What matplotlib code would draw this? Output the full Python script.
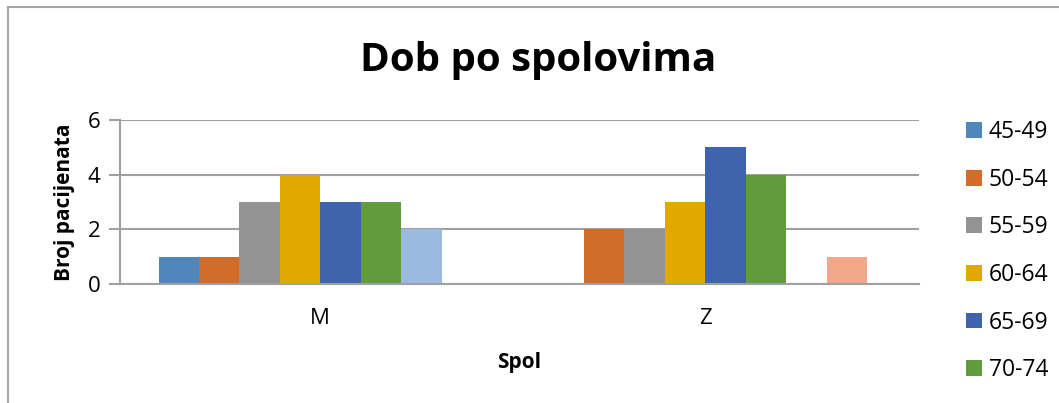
import matplotlib
matplotlib.use("Agg")
import matplotlib.pyplot as plt
from matplotlib.patches import Patch
from matplotlib.lines import Line2D
import numpy as np

categories = ["M", "Z"]
age_groups = ["45-49", "50-54", "55-59", "60-64", "65-69", "70-74", "75-79", "80-84"]
values_m = [1, 1, 3, 4, 3, 3, 2, 0]
values_z = [0, 2, 2, 3, 5, 4, 0, 1]
colors = ["#4F87BD", "#D26C2A", "#939393", "#E1A900", "#3D64AC", "#629A3E", "#9ABAE0", "#F0A78A"]
yticks = [0, 2, 4, 6]

FONT = "Open Sans"
plt.rcParams["font.family"] = [FONT, "DejaVu Sans"]

W, H = 1059, 403
fig = plt.figure(figsize=(W / 100, H / 100), dpi=100)

# axes placement in pixels
ax_l, ax_r, ax_t, ax_b = 120, 919, 120, 284
ax = fig.add_axes([ax_l / W, 1 - ax_b / H, (ax_r - ax_l) / W, (ax_b - ax_t) / H])

n = len(age_groups)
bw = 0.105
x = np.arange(len(categories))
for i, g in enumerate(age_groups):
    vals = [values_m[i], values_z[i]]
    ax.bar(x + (i - (n - 1) / 2) * bw, vals, width=bw, color=colors[i], label=g, zorder=3)

ax.set_xlim(-0.52, 1.555)
ax.set_ylim(0, 6)
ax.set_yticks(yticks)
ax.set_xticks(x)
ax.set_xticklabels(categories)
grid_c = "#A0A0A0"
ax.yaxis.grid(True, color=grid_c, linewidth=1.5, zorder=0)
for s in ["top", "right"]:
    ax.spines[s].set_visible(False)
ax.spines["left"].set_color(grid_c)
ax.spines["left"].set_linewidth(1.5)
ax.spines["bottom"].set_color(grid_c)
ax.spines["bottom"].set_linewidth(1.5)
ax.spines["bottom"].set_zorder(4)
ax.tick_params(axis="y", length=8, width=1.5, color=grid_c, labelsize=16, pad=6)
ax.tick_params(axis="x", length=0, labelsize=16, pad=17)

ax.set_ylabel("Broj pacijenata", fontsize=15, fontweight="bold", labelpad=9)
ax.set_xlabel("Spol", fontsize=15, fontweight="bold", labelpad=17)

fig.text(538 / W, 1 - 60 / H, "Dob po spolovima", fontsize=29, fontweight="bold",
         ha="center", va="center")

# legend (only visible entries of the cropped chart)
handles = [Patch(facecolor=colors[i], edgecolor="none") for i in range(6)]
leg = fig.legend(handles, age_groups[:6], loc="upper left",
                 bbox_to_anchor=(957 / W, 1 - 111 / H), frameon=False,
                 fontsize=16.5, handlelength=0.68, handleheight=0.68,
                 handletextpad=0.3, labelspacing=1.03, borderaxespad=0)

# chart border (cropped Excel chart frame)
fig.add_artist(Line2D([8 / W, 8 / W], [0, 1 - 7 / H], transform=fig.transFigure,
                      color="#A6A6A6", linewidth=1.5))
fig.add_artist(Line2D([8 / W, 1], [1 - 7 / H, 1 - 7 / H], transform=fig.transFigure,
                      color="#A6A6A6", linewidth=1.5))

fig.savefig("out.png", dpi=100)
